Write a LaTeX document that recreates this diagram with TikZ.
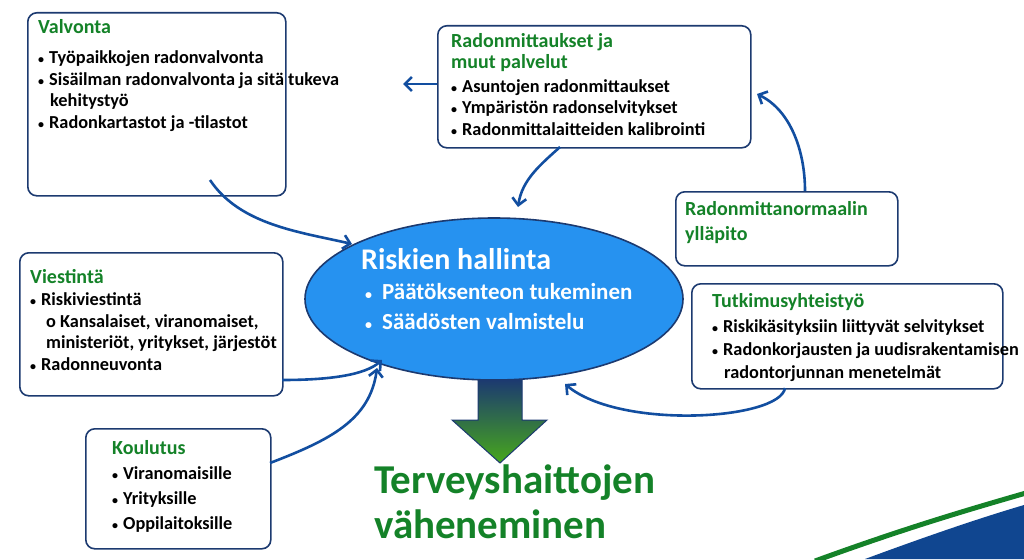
\documentclass[tikz,border=0pt]{standalone}
\usepackage{fontspec}
\setmainfont{Carlito}
\usetikzlibrary{arrows.meta,positioning,shadings,shapes.geometric}
\definecolor{frameblue}{RGB}{28,58,112}
\definecolor{arrowblue}{RGB}{18,78,160}
\definecolor{headgreen}{RGB}{20,130,40}
\definecolor{ellblue}{RGB}{38,146,240}
\tikzset{
    box/.style={draw=frameblue, line width=1.6pt, rounded corners=9pt, fill=white, anchor=north west},
    boxtext/.style={anchor=north west, align=left, font=\bfseries\fontsize{18.3}{21.5}\selectfont, inner sep=0pt},
    flow/.style={draw=arrowblue, line width=2.6pt, -{Straight Barb[length=7pt,width=14pt]}}
}
\newcommand{\hd}[1]{{\color{headgreen}\fontsize{20}{21.5}\selectfont #1}}
\newcommand{\bl}{{\fontsize{12}{12}\selectfont\textbullet}\hspace{5pt}}
\begin{document}
\begin{tikzpicture}[x=1pt,y=-1pt]
    \useasboundingbox (0,0) rectangle (1024,559);
    % corner decoration
    \fill[arrowblue!90!black] (865,559) .. controls (930,535) and (980,518) .. (1024,505) -- (1024,559) -- cycle;
    \draw[headgreen, line width=5pt] (815,561) .. controls (900,530) and (960,512) .. (1026,493);
    % boxes
    \node[box, minimum width=258pt, minimum height=183pt] (valv) at (27,12) {};
    \node[box, minimum width=313pt, minimum height=122pt] (mitt) at (437,25) {};
    \node[box, minimum width=222pt, minimum height=74pt] (norm) at (675,191) {};
    \node[box, minimum width=263pt, minimum height=143pt] (vies) at (19,252) {};
    \node[box, minimum width=311pt, minimum height=105pt] (tutk) at (691,283) {};
    \node[box, minimum width=185pt, minimum height=120pt] (koul) at (85,428) {};
    \node[boxtext] at (38,19) {\hd{Valvonta}\\[9pt]
        \bl Työpaikkojen radonvalvonta\\
        \bl Sisäilman radonvalvonta ja sitä tukeva\\
        \hspace{12pt}kehitystyö\\
        \bl Radonkartastot ja -tilastot};
    \node[boxtext] at (451,33) {\hd{Radonmittaukset ja}\\ \hd{muut palvelut}\\[2pt]
        \bl Asuntojen radonmittaukset\\
        \bl Ympäristön radonselvitykset\\
        \bl Radonmittalaitteiden kalibrointi};
    \node[boxtext, font=\bfseries\fontsize{18.3}{25}\selectfont] at (685,201) {\hd{Radonmittanormaalin}\\ \hd{ylläpito}};
    \node[boxtext] at (30,269) {\hd{Viestintä}\\[1pt]
        \bl Riskiviestintä\\
        \hspace{16pt}o Kansalaiset, viranomaiset,\\
        \hspace{16pt}ministeriöt, yritykset, järjestöt\\
        \bl Radonneuvonta};
    \node[boxtext, font=\bfseries\fontsize{18.3}{23}\selectfont] at (712,293) {\hd{Tutkimusyhteistyö}\\[2pt]
        \bl Riskikäsityksiin liittyvät selvitykset\\
        \bl Radonkorjausten ja uudisrakentamisen\\
        \hspace{12pt}radontorjunnan menetelmät};
    \node[boxtext, font=\bfseries\fontsize{18.3}{25}\selectfont] at (112,440) {\hd{Koulutus}\\
        \bl Viranomaisille\\
        \bl Yrityksille\\
        \bl Oppilaitoksille};
    % centre
    \node[draw=frameblue, line width=1.6pt, fill=ellblue, ellipse, minimum width=378pt, minimum height=162pt, inner sep=0pt] (risk) at (494,299) {};
    \node[anchor=north west, align=left, inner sep=0pt, text=white, font=\bfseries\fontsize{23}{30}\selectfont] at (361,248) {{\fontsize{30}{30}\selectfont Riskien hallinta}\\
        \hspace{4pt}{\fontsize{14}{14}\selectfont\textbullet}\hspace{10pt}Päätöksenteon tukeminen\\
        \hspace{4pt}{\fontsize{14}{14}\selectfont\textbullet}\hspace{10pt}Säädösten valmistelu};
    \shade[top color=frameblue, bottom color=headgreen!70!lime, draw=frameblue, line width=1pt]
        (478,380) -- (522,380) -- (522,420) -- (547,420) -- (500,463) -- (452,420) -- (478,420) -- cycle;
    \node[anchor=north west, align=left, inner sep=0pt, text=headgreen, font=\bfseries\fontsize{41}{45}\selectfont] (tulos) at (374,465) {Terveyshaittojen\\väheneminen};
    % connectors
    \coordinate (v1) at (210,180);
    \draw[flow] (v1) .. controls (240,225) and (300,232) .. (352,244);
    \draw[flow] (mitt.west |- 0,84) -- (403,84);
    \draw[flow] (560,147) .. controls (540,165) and (522,180) .. (518,207);
    \draw[flow] (805,191) .. controls (805,150) and (790,110) .. (757,94);
    \draw[flow] (282,380) .. controls (330,380) and (365,375) .. (382,360);
    \draw[flow] (270,463) .. controls (330,440) and (370,420) .. (377,368);
    \draw[flow] (785,388) .. controls (780,420) and (620,430) .. (565,384);
\end{tikzpicture}
\end{document}
